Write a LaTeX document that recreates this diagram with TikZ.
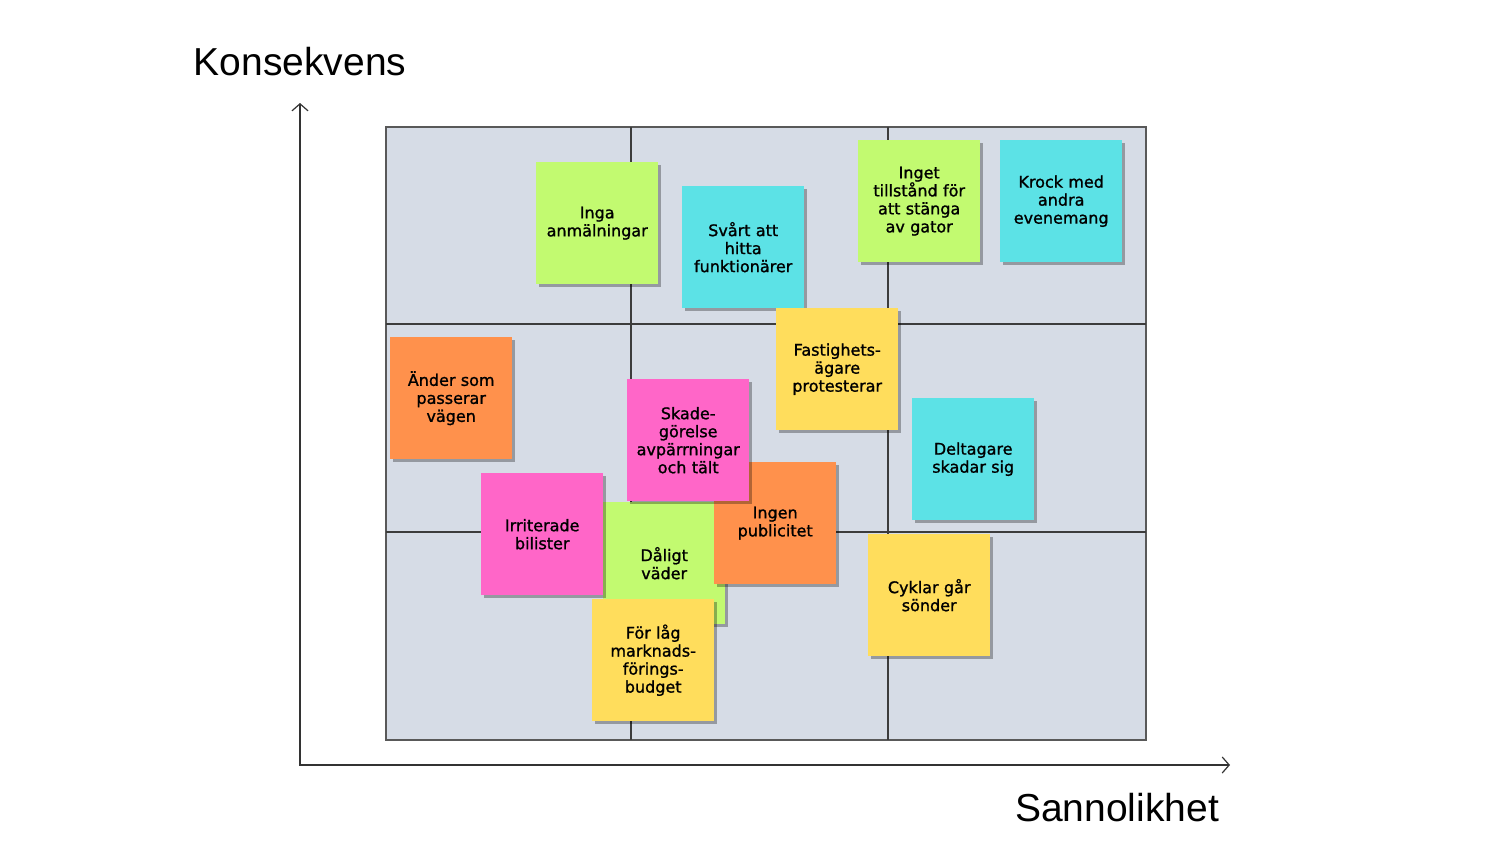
\documentclass[tikz,border=0pt]{standalone}
\usepackage{fontspec}
\setmainfont{Liberation Sans}
\newfontfamily\notefont[RawFeature={embolden=1.2}]{DejaVu Sans}
\usetikzlibrary{shadows,arrows.meta}
\definecolor{gridbg}{RGB}{214,220,230}
\definecolor{gridline}{RGB}{60,60,60}
\definecolor{ngreen}{RGB}{194,250,112}
\definecolor{ncyan}{RGB}{92,226,230}
\definecolor{nyellow}{RGB}{255,221,92}
\definecolor{norange}{RGB}{255,145,76}
\definecolor{npink}{RGB}{255,102,200}
\begin{document}
\begin{tikzpicture}[x=1pt,y=-1pt,
  note/.style={minimum width=122pt, minimum height=122pt, inner sep=0pt,
    align=center, text width=120pt, anchor=north west,
    font=\notefont\fontsize{16}{18}\selectfont,
    drop shadow={shadow xshift=3pt, shadow yshift=-3pt, opacity=0.3, fill=black}},
  axislabel/.style={font=\fontsize{39}{45}\selectfont, inner sep=0pt},
  axis/.style={line width=1.2pt, draw=black!80, {Straight Barb[length=7pt,width=16pt]}-{Straight Barb[length=7pt,width=16pt]}},
  gridl/.style={line width=1.5pt, draw=gridline}]
\useasboundingbox (0,0) rectangle (1500,844);
% grid
\coordinate (g1) at (386,127);
\coordinate (g2) at (1146,740);
\draw[fill=gridbg, draw=black!65, line width=1.5pt] (g1) rectangle (g2);
\coordinate (va1) at (631,127); \coordinate (va2) at (631,740);
\coordinate (vb1) at (888,127); \coordinate (vb2) at (888,740);
\coordinate (ha1) at (386,324); \coordinate (ha2) at (1146,324);
\coordinate (hb1) at (386,532); \coordinate (hb2) at (1146,532);
\draw[gridl] (va1) -- (va2);
\draw[gridl] (vb1) -- (vb2);
\draw[gridl] (ha1) -- (ha2);
\draw[gridl] (hb1) -- (hb2);
% axes
\coordinate (ytop) at (300,103);
\coordinate (orig) at (300,765);
\coordinate (xend) at (1230,765);
\draw[axis] (ytop) -- (orig) -- (xend);
\node[axislabel] (kons) at (300,62) {Konsekvens};
\node[axislabel] (sann) at (1117,808) {Sannolikhet};
% notes
\node[note, fill=ngreen] (inga) at (536,162) {Inga\\anmälningar};
\node[note, fill=ncyan] (svart) at (682,186) {Svårt att\\hitta\\funktionärer};
\node[note, fill=nyellow] (fast) at (776,308) {Fastighets-\\ägare\\protesterar};
\node[note, fill=ngreen] (inget) at (858,140) {Inget\\tillstånd för\\att stänga\\av gator};
\node[note, fill=ncyan] (krock) at (1000,140) {Krock med\\andra\\evenemang};
\node[note, fill=norange] (ander) at (390,337) {Änder som\\passerar\\vägen};
\node[note, fill=ncyan] (delt) at (912,398) {Deltagare\\skadar sig};
\node[note, fill=nyellow] (cykl) at (868,534) {Cyklar går\\sönder};
\node[note, fill=ngreen] (dalig) at (603,502) {Dåligt\\väder};
\node[note, fill=npink] (irr) at (481,473) {Irriterade\\bilister};
\node[note, fill=norange] (ingen) at (714,462) {Ingen\\publicitet};
\node[note, fill=npink] (skade) at (627,379) {Skade-\\görelse\\avpärrningar\\och tält};
\node[note, fill=nyellow] (forlag) at (592,599) {För låg\\marknads-\\förings-\\budget};
\end{tikzpicture}
\end{document}
